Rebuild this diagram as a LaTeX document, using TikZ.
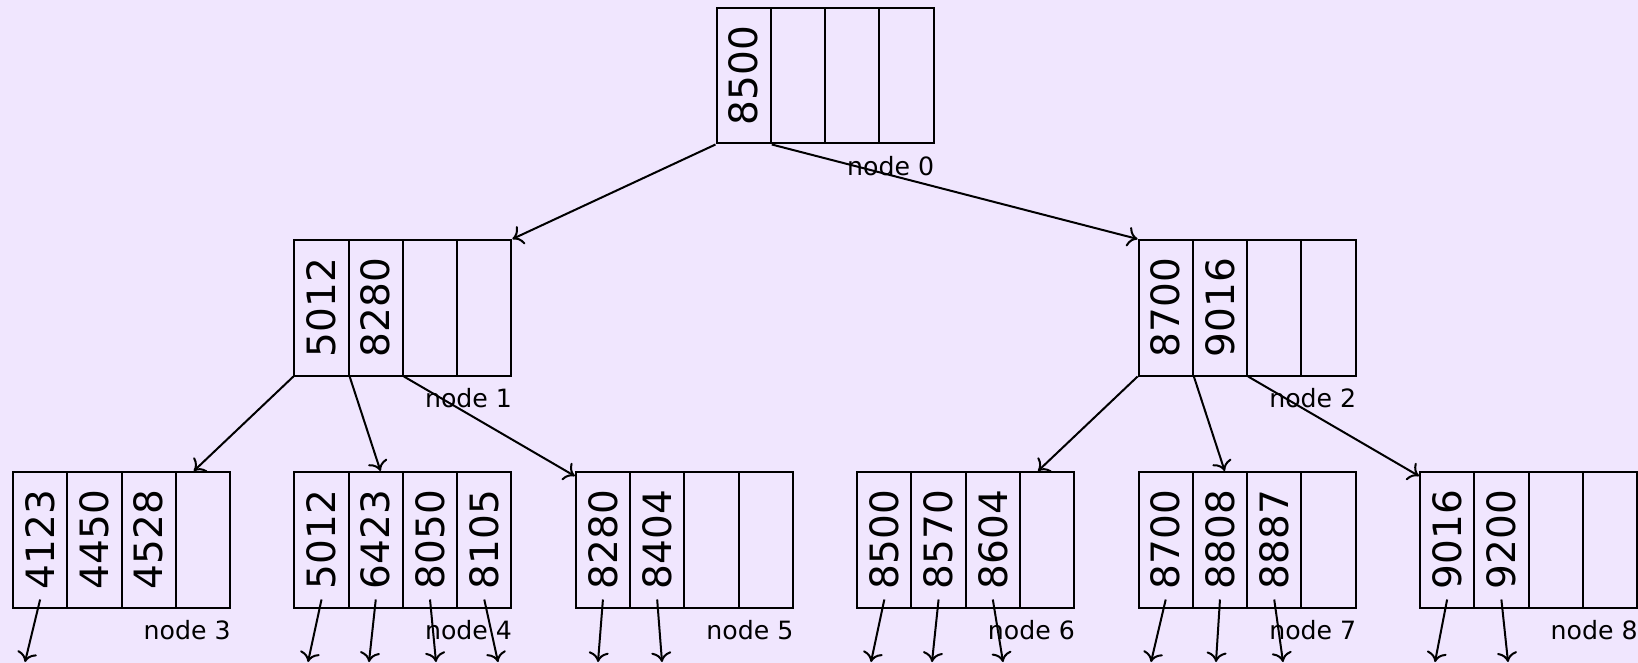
\documentclass[tikz,border=0pt]{standalone}
\usepackage{fontspec}
\setmainfont{DejaVu Sans}
\newfontfamily\digitfont{DejaVu Sans}
\usepackage{graphicx}
\usetikzlibrary{arrows.meta}
\definecolor{bg}{RGB}{240,230,254}
\tikzset{
  cell/.style={draw, line width=1pt, minimum width=27.125pt, minimum height=67.75pt, inner sep=0pt,
    font=\digitfont\fontsize{19.5}{24}\selectfont},
  bnode/.style={draw, line width=1pt, minimum width=108.5pt, minimum height=67.75pt, inner sep=0pt},
  lbl/.style={anchor=base east, inner sep=0pt, font=\fontsize{12.6}{15}\selectfont},
  ptr/.style={-{To[length=5pt,width=10pt]}, line width=1pt},
}
\newcommand{\btn}[7]{%
  \node[bnode] (#1) at ({#2+108.5},{#3+67.75}) {};
  \node[cell] (#1c1) at ({#2+27.125},{#3+67.75}) {\rotatebox{90}{#4}};
  \node[cell] (#1c2) at ({#2+81.375},{#3+67.75}) {\rotatebox{90}{#5}};
  \node[cell] (#1c3) at ({#2+135.625},{#3+67.75}) {\rotatebox{90}{#6}};
  \node[cell] (#1c4) at ({#2+189.875},{#3+67.75}) {\rotatebox{90}{#7}};
}
\begin{document}
\begin{tikzpicture}[x=0.5pt,y=-0.5pt]
\fill[bg] (0,0) rectangle (1638,663);
\useasboundingbox (0,0) rectangle (1638,663);

\btn{n0}{716.5}{8}{8500}{}{}{}
\btn{n1}{294.4}{240}{5012}{8280}{}{}
\btn{n2}{1138.6}{240}{8700}{9016}{}{}
\btn{n3}{13}{472}{4123}{4450}{4528}{}
\btn{n4}{294.4}{472}{5012}{6423}{8050}{8105}
\btn{n5}{575.8}{472}{8280}{8404}{}{}
\btn{n6}{857.2}{472}{8500}{8570}{8604}{}
\btn{n7}{1138.6}{472}{8700}{8808}{8887}{}
\btn{n8}{1420}{472}{9016}{9200}{}{}

\foreach \k in {0,...,8}{
  \node[lbl] (l\k) at ([yshift=-15.5pt]n\k.south east) {node \k};
}

\draw[ptr] (n0c1.south west) -- (n1.north east);
\draw[ptr] (n0c1.south east) -- (n2.north west);
\draw[ptr] (n1c1.south west) -- (n3);
\draw[ptr] (n1c1.south east) -- (n4);
\draw[ptr] (n1c2.south east) -- (n5);
\draw[ptr] (n2c1.south west) -- (n6);
\draw[ptr] (n2c1.south east) -- (n7);
\draw[ptr] (n2c2.south east) -- (n8);

\coordinate (q3a) at (25,662);
\coordinate (q4a) at (308,662);
\coordinate (q4b) at (369,662);
\coordinate (q4c) at (436,662);
\coordinate (q4d) at (498,662);
\coordinate (q5a) at (598,662);
\coordinate (q5b) at (662,662);
\coordinate (q6a) at (871,662);
\coordinate (q6b) at (932,662);
\coordinate (q6c) at (1003,662);
\coordinate (q7a) at (1151,662);
\coordinate (q7b) at (1216,662);
\coordinate (q7c) at (1283,662);
\coordinate (q8a) at (1435,662);
\coordinate (q8b) at (1508,662);

\draw[ptr] ([yshift=4.5pt]n3c1.south) -- (q3a);
\draw[ptr] ([yshift=4.5pt]n4c1.south) -- (q4a);
\draw[ptr] ([yshift=4.5pt]n4c2.south) -- (q4b);
\draw[ptr] ([yshift=4.5pt]n4c3.south) -- (q4c);
\draw[ptr] ([yshift=4.5pt]n4c4.south) -- (q4d);
\draw[ptr] ([yshift=4.5pt]n5c1.south) -- (q5a);
\draw[ptr] ([yshift=4.5pt]n5c2.south) -- (q5b);
\draw[ptr] ([yshift=4.5pt]n6c1.south) -- (q6a);
\draw[ptr] ([yshift=4.5pt]n6c2.south) -- (q6b);
\draw[ptr] ([yshift=4.5pt]n6c3.south) -- (q6c);
\draw[ptr] ([yshift=4.5pt]n7c1.south) -- (q7a);
\draw[ptr] ([yshift=4.5pt]n7c2.south) -- (q7b);
\draw[ptr] ([yshift=4.5pt]n7c3.south) -- (q7c);
\draw[ptr] ([yshift=4.5pt]n8c1.south) -- (q8a);
\draw[ptr] ([yshift=4.5pt]n8c2.south) -- (q8b);
\end{tikzpicture}
\end{document}
